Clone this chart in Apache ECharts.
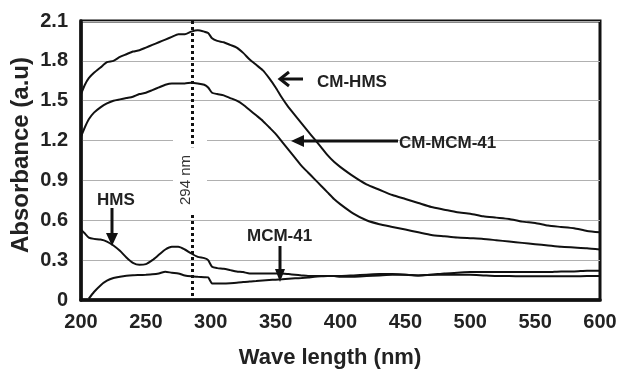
<!DOCTYPE html>
<html>
<head>
<meta charset="utf-8">
<script src="https://cdn.jsdelivr.net/npm/echarts@6/dist/echarts.min.js"></script>
<style>html,body{margin:0;padding:0;background:#fff;}#c{width:620px;height:371px;}</style>
</head>
<body>
<div id="c"></div>
<script>
// ---- data ----
const wavelengths = [200,203,206,210,215,220,225,230,235,240,
  245,250,255,260,265,270,275,280,285,290,
  295,298,301,305,310,315,320,325,330,335,
  340,345,350,355,360,365,370,375,380,385,
  390,395,400,410,420,430,440,450,460,470,
  480,490,500,510,520,530,540,550,560,570,
  580,590,600];
const cmHms = [1.55,1.62,1.67,1.71,1.75,1.79,1.80,1.83,1.85,1.87,
  1.88,1.90,1.92,1.94,1.96,1.98,2.00,2.00,2.02,2.03,
  2.02,2.01,1.97,1.95,1.94,1.92,1.90,1.86,1.81,1.77,
  1.73,1.67,1.60,1.52,1.45,1.39,1.33,1.27,1.21,1.15,
  1.09,1.04,1.00,0.93,0.87,0.83,0.79,0.76,0.73,0.70,
  0.68,0.66,0.65,0.63,0.62,0.61,0.59,0.58,0.56,0.55,
  0.54,0.52,0.51];
const cmMcm41 = [1.23,1.30,1.36,1.41,1.45,1.48,1.50,1.51,1.52,1.53,
  1.55,1.56,1.58,1.60,1.62,1.63,1.63,1.63,1.635,1.63,
  1.62,1.60,1.56,1.55,1.54,1.52,1.50,1.47,1.43,1.39,
  1.35,1.30,1.25,1.19,1.13,1.07,1.01,0.96,0.91,0.86,
  0.81,0.76,0.72,0.65,0.60,0.57,0.55,0.53,0.51,0.49,
  0.48,0.47,0.465,0.46,0.45,0.44,0.43,0.42,0.41,0.40,
  0.395,0.39,0.38];
const hms = [0.53,0.50,0.47,0.46,0.455,0.44,0.41,0.37,0.32,0.28,
  0.265,0.27,0.30,0.34,0.38,0.40,0.40,0.38,0.35,0.325,
  0.315,0.30,0.25,0.24,0.235,0.225,0.215,0.21,0.20,0.20,
  0.20,0.20,0.20,0.20,0.195,0.19,0.185,0.18,0.18,0.18,
  0.18,0.18,0.175,0.175,0.18,0.185,0.19,0.19,0.185,0.19,
  0.20,0.205,0.21,0.21,0.21,0.21,0.21,0.21,0.21,0.215,
  0.215,0.22,0.22];
const mcm41 = [null,null,0.01,0.06,0.11,0.145,0.165,0.175,0.182,0.186,
  0.188,0.19,0.193,0.20,0.213,0.205,0.20,0.185,0.178,0.175,
  0.172,0.17,0.125,0.125,0.125,0.127,0.13,0.135,0.14,0.143,
  0.147,0.15,0.153,0.156,0.16,0.163,0.166,0.17,0.175,0.178,
  0.18,0.18,0.18,0.185,0.19,0.195,0.195,0.19,0.185,0.19,
  0.19,0.19,0.19,0.185,0.18,0.18,0.178,0.178,0.178,0.178,
  0.178,0.18,0.18];
const xTicks = [200,250,300,350,400,450,500,550,600];
const yTicks = [0,0.3,0.6,0.9,1.2,1.5,1.8,2.1];
const markerWavelength = 285.5;
const markerLabel = '294 nm';
const seriesNames = ['CM-HMS','CM-MCM-41','HMS','MCM-41'];

// ---- build ----
function pairs(vals){ const out=[]; wavelengths.forEach((w,i)=>{ if(vals[i]!==null) out.push([w,vals[i]]); }); return out; }
const FONT = '"Liberation Sans", Arial, sans-serif';
const chart = echarts.init(document.getElementById('c'), null, {renderer:'canvas'});
const lineSeries = [cmHms, cmMcm41, hms, mcm41].map((v,i)=>({
  name: seriesNames[i], type:'line', data: pairs(v), showSymbol:false, symbol:'none', smooth:0.2,
  lineStyle:{color:'#111', width:2}, z:3, animation:false
}));
lineSeries[0].markLine = {
  silent:true, symbol:['none','none'], animation:false, label:{show:false},
  lineStyle:{color:'#111', width:3, type:[3,3], cap:'butt'},
  data:[
    [{coord:[markerWavelength,2.1]},{coord:[markerWavelength,1.15]}],
    [{coord:[markerWavelength,0.64]},{coord:[markerWavelength,0]}]
  ]
};
const option = {
  animation:false,
  grid:{left:81, right:20, top:21, bottom:71, show:true, borderColor:'#111', borderWidth:3},
  xAxis:{type:'value', min:xTicks[0], max:xTicks[xTicks.length-1], interval:50,
    axisLine:{show:true, lineStyle:{color:'#111', width:3.5}}, axisTick:{show:false}, splitLine:{show:false},
    axisLabel:{color:'#222', fontSize:20, fontWeight:'bold', fontFamily:FONT, margin:12}},
  yAxis:{type:'value', min:yTicks[0], max:yTicks[yTicks.length-1], interval:0.3,
    axisLine:{show:true, lineStyle:{color:'#111', width:3.5}}, axisTick:{show:false},
    splitLine:{show:true, lineStyle:{color:'#b0b0b0', width:1.2}},
    axisLabel:{color:'#222', fontSize:20, fontWeight:'bold', fontFamily:FONT, margin:13,
      formatter:v=> v===0 ? '0' : v.toFixed(1)}},
  series: lineSeries,
  graphic:[
    {type:'rect', z:1, shape:{x:173, y:128, width:34, height:84}, style:{fill:'#fff'}},
    {type:'text', z:5, x:186, y:180, rotation:Math.PI/2,
      style:{text:markerLabel, font:'15px '+FONT, fill:'#333', textAlign:'center', textVerticalAlign:'middle'}},
    {type:'text', z:5, x:21, y:155, rotation:Math.PI/2,
      style:{text:'Absorbance (a.u)', font:'bold 24px '+FONT, fill:'#222', textAlign:'center', textVerticalAlign:'middle'}},
    {type:'text', z:5, x:330, y:358,
      style:{text:'Wave length (nm)', font:'bold 22px '+FONT, fill:'#222', textAlign:'center', textVerticalAlign:'middle'}},
    // annotations
    {type:'text', z:5, x:317, y:82, style:{text:seriesNames[0], font:'bold 17px '+FONT, fill:'#222', textVerticalAlign:'middle'}},
    {type:'polyline', z:5, shape:{points:[[281,79],[303,79]]}, style:{stroke:'#111', lineWidth:3}},
    {type:'polyline', z:5, shape:{points:[[289,72],[280,79],[289,86]]}, style:{stroke:'#111', lineWidth:3, fill:null}},
    {type:'text', z:5, x:399, y:143, style:{text:seriesNames[1], font:'bold 17px '+FONT, fill:'#222', textVerticalAlign:'middle'}},
    {type:'polyline', z:5, shape:{points:[[300,141],[398,141]]}, style:{stroke:'#111', lineWidth:3}},
    {type:'polygon', z:5, shape:{points:[[291,141],[304,135],[304,147]]}, style:{fill:'#111'}},
    {type:'text', z:5, x:97, y:200, style:{text:seriesNames[2], font:'bold 17px '+FONT, fill:'#222', textVerticalAlign:'middle'}},
    {type:'polyline', z:5, shape:{points:[[112,208],[112,236]]}, style:{stroke:'#111', lineWidth:3}},
    {type:'polygon', z:5, shape:{points:[[112,246],[106,233],[118,233]]}, style:{fill:'#111'}},
    {type:'text', z:5, x:247, y:236, style:{text:seriesNames[3], font:'bold 17px '+FONT, fill:'#222', textVerticalAlign:'middle'}},
    {type:'polyline', z:5, shape:{points:[[280,246],[280,272]]}, style:{stroke:'#111', lineWidth:3}},
    {type:'polygon', z:5, shape:{points:[[280,282],[275,269],[285,269]]}, style:{fill:'#111'}}
  ]
};
chart.setOption(option);
</script>
</body>
</html>
